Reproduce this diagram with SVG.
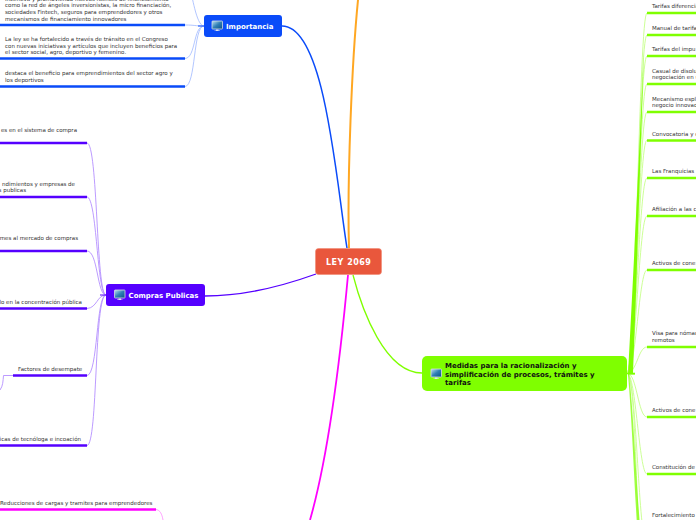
<svg xmlns="http://www.w3.org/2000/svg" width="696" height="520" viewBox="0 0 696 520">
<style>
text{font-family:"DejaVu Sans",Verdana,sans-serif}
.t{font-size:5.5px;fill:#333}
.n{font-weight:bold;fill:#fff;font-size:7px}
.c{fill:none}
.bl{stroke:#0a4bf9}.pu{stroke:#5500ff}.gr{stroke:#7fff00}.pk{stroke:#ff00ff}
.pb{stroke:#a9c0ff}.pp{stroke:#b490ff}.pg{stroke:#c6ff8a}.ppk{stroke:#ff99ff}
.l{stroke-width:2.4;fill:none}
</style>
<defs>
<linearGradient id="scr" x1="0" y1="0" x2="1" y2="1"><stop offset="0" stop-color="#bfe3f2"/><stop offset=".5" stop-color="#2f7fb5"/><stop offset="1" stop-color="#0b4f86"/></linearGradient>
<g id="ic"><rect x="0" y="0" width="10.5" height="8" rx=".6" fill="url(#scr)" stroke="#d5dbe0" stroke-width=".8"/><path d="M4 8.400h2.500v1h1.500v.6H2.500v-.6H4z" fill="#dfe4e8"/></g>
</defs>
<g id="connectors">
<path class="c" d="M349 248C347 180 352 60 358 0" stroke="#ffa722" stroke-width="2"/>
<path class="c bl" d="M347 248C336 180 325 26 282 26" stroke-width="1.500"/>
<path class="c pu" d="M316 274C280 287 240 296 205 296" stroke-width="1.300"/>
<path class="c pk" d="M348 275C342 340 330 450 310 520" stroke-width="1.800"/>
<path class="c gr" d="M353 275C362 310 385 373 422 373" stroke-width="1.300"/>
<g class="pb" fill="none" stroke-width=".9">
<path d="M204 26C196 26 192 -8 190 -10"/>
<path d="M204 26C195 26 195 25 185 25"/>
<path d="M204 26C193 26 196 58 185 58.500"/>
<path d="M204 26C193 26 196 86 185 86.500"/>
</g>
<path class="c bl" d="M198 26H204" stroke-width="1"/>
<g class="pp" fill="none" stroke-width=".9">
<path d="M106 295C96 295 98 143 87 143"/>
<path d="M106 295C97 295 97 197 87 197"/>
<path d="M106 295C97 295 98 251 87 251"/>
<path d="M106 295C97 295 97 308 87 308.500"/>
<path d="M106 295C96 295 98 375 87 375.500"/>
<path d="M106 295C94 295 98 445 87 445.500"/>
<path d="M13 375.500H3.500C3 381 3 386 0 390"/>
</g>
<path class="c pu" d="M100 295H106" stroke-width="1"/>
<path class="c ppk" d="M156 509.500C160 510 162 514 163 520" stroke-width=".9"/>
<g class="pg" fill="none" stroke-width=".9">
<path d="M627 373C636 373 639 13 647 13"/>
<path d="M627 373C636 373 639 35 647 35"/>
<path d="M627 373C636 373 639 56 647 56"/>
<path d="M627 373C636 373 639 84 647 84"/>
<path d="M627 373C636 373 639 112 647 112"/>
<path d="M627 373C636 373 639 140 647 140"/>
<path d="M627 373C636 373 639 178 647 178"/>
<path d="M627 373C636 373 639 216 647 216"/>
<path d="M627 373C636 373 639 270 647 270"/>
<path d="M627 373C637 373 638 347 647 347"/>
<path d="M627 373C637 373 638 417 647 417"/>
<path d="M627 373C636 373 639 474 647 474"/>
<path d="M627 373C636 373 638 520 645 540"/>
<path d="M627 373C636 373 636 520 641 560"/>
</g>
<path d="M628 374.500C632 300 637 200 644 50C639 200 636 300 633 373H635V374.500Z" fill="#7fff00"/>
<path d="M629 373C634 420 636 480 640 525L637 525C634 480 632 420 628 374.500Z" fill="#7fff00" opacity=".75"/>
<path class="c gr" d="M627 373.500H635" stroke-width="1.600"/>
</g>
<g id="imp-1"><text class="t" x="5" y="1">incentiva y promoviendo nuevas fuentes de financiamiento</text><text class="t" x="5" y="7.300">como la red de ángeles inversionistas, la micro financiación,</text><text class="t" x="5" y="14">sociedades Fintech, seguros para emprendedores y otros</text><text class="t" x="5" y="20.500">mecanismos de  financiamiento innovadores</text><path class="l bl" d="M0 25H185"/></g>
<g id="imp-2"><text class="t" x="5" y="41">La ley se ha fortalecido a través de  tránsito en el Congreso</text><text class="t" x="5" y="47.500">con nuevas iniciativas y artículos que incluyen beneficios para</text><text class="t" x="5" y="54">el sector social, agro, deportivo y femenino.</text><path class="l bl" d="M0 58.500H185"/></g>
<g id="imp-3"><text class="t" x="5" y="75">destaca el beneficio para emprendimientos del sector agro y</text><text class="t" x="5" y="82">los deportivos</text><path class="l bl" d="M0 86.500H185"/></g>
<g id="cp-1"><text class="t" x="77" y="132" text-anchor="end">es en el sistema de compra</text><path class="l pu" d="M0 143H87"/></g>
<g id="cp-2"><text class="t" x="75" y="185.500" text-anchor="end">ndimientos  y empresas de</text><text class="t" x="26" y="192" text-anchor="end">s publicas</text><path class="l pu" d="M0 197H87"/></g>
<g id="cp-3"><text class="t" x="78" y="240" text-anchor="end">mes al mercado de compras</text><path class="l pu" d="M0 251H87"/></g>
<g id="cp-4"><text class="t" x="82" y="304" text-anchor="end">lo en la concentración pública</text><path class="l pu" d="M0 308.500H87"/></g>
<g id="cp-5"><text class="t" x="18" y="371">Factores de desempate</text><path class="l pu" d="M13 375.500H87"/></g>
<g id="cp-6"><text class="t" x="81" y="441" text-anchor="end">licas de tecnóloga e incoación</text><path class="l pu" d="M0 445.500H87"/></g>
<g id="red-1"><text class="t" x="0" y="505">Reducciones de cargas y tramites para emprendedores</text><path class="l pk" d="M0 509.500H156"/></g>
<g id="m-1"><text class="t" x="652" y="8">Tarifas diferencia</text><path class="l gr" d="M647 13H696"/></g>
<g id="m-2"><text class="t" x="652" y="30">Manual de tarifa</text><path class="l gr" d="M647 35H696"/></g>
<g id="m-3"><text class="t" x="652" y="51">Tarifas del impu</text><path class="l gr" d="M647 56H696"/></g>
<g id="m-4"><text class="t" x="652" y="73">Casual de disolu</text><text class="t" x="652" y="79">negociación en u</text><path class="l gr" d="M647 84H696"/></g>
<g id="m-5"><text class="t" x="652" y="101">Mecanismo espl</text><text class="t" x="652" y="107">negocio innovad</text><path class="l gr" d="M647 112H696"/></g>
<g id="m-6"><text class="t" x="652" y="136">Convocatoria y c</text><path class="l gr" d="M647 140.500H696"/></g>
<g id="m-7"><text class="t" x="652" y="173">Las Franquicias</text><path class="l gr" d="M647 178H696"/></g>
<g id="m-8"><text class="t" x="652" y="211">Afiliación a las c</text><path class="l gr" d="M647 216H696"/></g>
<g id="m-9"><text class="t" x="652" y="265">Activos de cone:</text><path class="l gr" d="M647 270H696"/></g>
<g id="m-10"><text class="t" x="652" y="335">Visa para nómad</text><text class="t" x="652" y="342">remotos</text><path class="l gr" d="M647 347H696"/></g>
<g id="m-11"><text class="t" x="652" y="412">Activos de cone</text><path class="l gr" d="M647 417H696"/></g>
<g id="m-12"><text class="t" x="652" y="469">Constitución de</text><path class="l gr" d="M647 474H696"/></g>
<g id="m-13"><text class="t" x="652" y="517">Fortalecimiento</text></g>
<g id="root"><rect x="315.500" y="248.500" width="66" height="26" rx="3" fill="#e9573c" stroke="#f08a73" stroke-width=".6"/><text x="348.700" y="265" text-anchor="middle" class="n" style="font-size:8px;letter-spacing:.5px">LEY 2069</text></g>
<g id="importancia"><rect x="204" y="15" width="78" height="22" rx="3" fill="#0a4bf9"/><use href="#ic" x="212" y="21"/><text class="n" x="226" y="29">Importancia</text></g>
<g id="compras"><rect x="106" y="284" width="99" height="22" rx="3" fill="#5500ff"/><use href="#ic" x="114.500" y="290"/><text class="n" x="128.500" y="298">Compras Publicas</text></g>
<g id="medidas"><rect x="422" y="356" width="205" height="35" rx="5" fill="#7fff00"/><use href="#ic" x="431" y="369"/><text class="n" style="fill:#111" x="445" y="368">Medidas para la racionalización y</text><text class="n" style="fill:#111" x="445" y="376.500">simplificación de procesos, trámites y</text><text class="n" style="fill:#111" x="445" y="385">tarifas</text></g>
</svg>
